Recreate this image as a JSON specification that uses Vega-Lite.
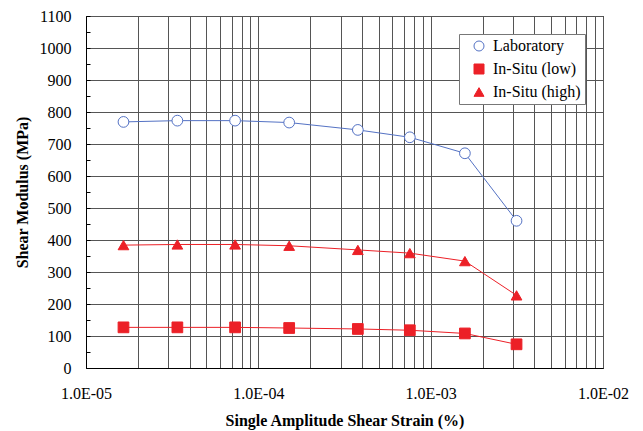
{
  "$schema": "https://vega.github.io/schema/vega-lite/v6.json",
  "autosize": "none",
  "width": 517,
  "height": 352,
  "padding": {"left": 86, "top": 16, "right": 40, "bottom": 63},
  "background": "white",
  "config": {
    "view": {"stroke": "#000", "strokeWidth": 1},
    "font": "Times New Roman, Liberation Serif, serif"
  },
  "data": {
    "values": [
      {"strain": 0.0000165, "G": 769, "series": "Laboratory"},
      {"strain": 0.0000339, "G": 773, "series": "Laboratory"},
      {"strain": 0.0000733, "G": 773, "series": "Laboratory"},
      {"strain": 0.000151, "G": 767, "series": "Laboratory"},
      {"strain": 0.000378, "G": 744, "series": "Laboratory"},
      {"strain": 0.000757, "G": 721, "series": "Laboratory"},
      {"strain": 0.00158, "G": 671, "series": "Laboratory"},
      {"strain": 0.00315, "G": 460, "series": "Laboratory"},
      {"strain": 0.0000165, "G": 127, "series": "In-Situ (low)"},
      {"strain": 0.0000339, "G": 127, "series": "In-Situ (low)"},
      {"strain": 0.0000733, "G": 127, "series": "In-Situ (low)"},
      {"strain": 0.000151, "G": 125, "series": "In-Situ (low)"},
      {"strain": 0.000378, "G": 122, "series": "In-Situ (low)"},
      {"strain": 0.000757, "G": 118, "series": "In-Situ (low)"},
      {"strain": 0.00158, "G": 108, "series": "In-Situ (low)"},
      {"strain": 0.00315, "G": 74, "series": "In-Situ (low)"},
      {"strain": 0.0000165, "G": 384, "series": "In-Situ (high)"},
      {"strain": 0.0000339, "G": 386, "series": "In-Situ (high)"},
      {"strain": 0.0000733, "G": 386, "series": "In-Situ (high)"},
      {"strain": 0.000151, "G": 382, "series": "In-Situ (high)"},
      {"strain": 0.000378, "G": 369, "series": "In-Situ (high)"},
      {"strain": 0.000757, "G": 359, "series": "In-Situ (high)"},
      {"strain": 0.00158, "G": 334, "series": "In-Situ (high)"},
      {"strain": 0.00315, "G": 227, "series": "In-Situ (high)"}
    ]
  },
  "encoding": {
    "x": {
      "field": "strain",
      "type": "quantitative",
      "scale": {"type": "log", "domain": [0.00001, 0.01], "nice": false},
      "axis": {
        "title": "Single Amplitude Shear Strain (%)",
        "titleFont": "Times New Roman, Liberation Serif, serif",
        "titleFontSize": 16,
        "titleFontWeight": "bold",
        "titleColor": "#000",
        "titlePadding": 11,
        "labelFont": "Times New Roman, Liberation Serif, serif",
        "labelFontSize": 16,
        "labelColor": "#000",
        "labelPadding": 17,
        "labelFlush": false,
        "labelOverlap": false,
        "values": [0.00001, 0.00002, 0.00003, 0.00004, 0.00005, 0.00006, 0.00007, 0.00008, 0.00009,
                   0.0001, 0.0002, 0.0003, 0.0004, 0.0005, 0.0006, 0.0007, 0.0008, 0.0009,
                   0.001, 0.002, 0.003, 0.004, 0.005, 0.006, 0.007, 0.008, 0.009, 0.01],
        "labelExpr": "abs(log(datum.value)/LN10 - round(log(datum.value)/LN10)) < 0.001 ? '1.0E-0' + (-round(log(datum.value)/LN10)) : ''",
        "grid": true,
        "gridColor": "#555",
        "gridWidth": 1,
        "ticks": false,
        "domainColor": "#000"
      }
    },
    "y": {
      "field": "G",
      "type": "quantitative",
      "scale": {"domain": [0, 1100], "nice": false},
      "axis": {
        "title": "Shear Modulus (MPa)",
        "titleFont": "Times New Roman, Liberation Serif, serif",
        "titleFontSize": 16,
        "titleFontWeight": "bold",
        "titleColor": "#000",
        "titlePadding": 9,
        "labelFont": "Times New Roman, Liberation Serif, serif",
        "labelFontSize": 16,
        "labelColor": "#000",
        "labelPadding": 19,
        "values": [0, 50, 100, 150, 200, 250, 300, 350, 400, 450, 500, 550, 600, 650, 700, 750, 800, 850, 900, 950, 1000, 1050, 1100],
        "labelExpr": "datum.value % 100 === 0 ? format(datum.value, 'd') : ''",
        "grid": true,
        "gridColor": "#555",
        "gridWidth": 1,
        "gridOpacity": {"condition": {"test": "datum.value % 100 === 0", "value": 1}, "value": 0},
        "ticks": true,
        "tickSize": -4,
        "tickColor": "#000",
        "domainColor": "#000"
      }
    }
  },
  "layer": [
    {
      "mark": {"type": "line", "strokeWidth": 1},
      "encoding": {
        "color": {
          "field": "series",
          "type": "nominal",
          "scale": {"domain": ["Laboratory", "In-Situ (low)", "In-Situ (high)"], "range": ["#5472c4", "#ec2027", "#ec2027"]},
          "legend": {
            "title": null,
            "orient": "top-right",
            "offsetX": 6,
            "offsetY": 14,
            "fillColor": "white",
            "strokeColor": "#777",
            "padding": 4,
            "labelFont": "Times New Roman, Liberation Serif, serif",
            "labelFontSize": 16,
            "labelColor": "#000",
            "labelOffset": 6,
            "rowPadding": 7,
            "symbolSize": 100,
            "symbolOffset": 8,
            "symbolStrokeWidth": 1
          }
        }
      }
    },
    {
      "mark": {"type": "point", "filled": false, "strokeWidth": 1, "opacity": 1, "size": 115},
      "encoding": {
        "color": {
          "field": "series",
          "type": "nominal",
          "scale": {"domain": ["Laboratory", "In-Situ (low)", "In-Situ (high)"], "range": ["#5472c4", "#ec2027", "#ec2027"]},
          "legend": {
            "title": null,
            "orient": "top-right",
            "offsetX": 6,
            "offsetY": 14,
            "fillColor": "white",
            "strokeColor": "#777",
            "padding": 4,
            "labelFont": "Times New Roman, Liberation Serif, serif",
            "labelFontSize": 16,
            "labelColor": "#000",
            "labelOffset": 6,
            "rowPadding": 7,
            "symbolSize": 100,
            "symbolOffset": 8,
            "symbolStrokeWidth": 1
          }
        },
        "fill": {
          "field": "series",
          "type": "nominal",
          "scale": {"domain": ["Laboratory", "In-Situ (low)", "In-Situ (high)"], "range": ["white", "#ec2027", "#ec2027"]}
        },
        "shape": {
          "field": "series",
          "type": "nominal",
          "scale": {"domain": ["Laboratory", "In-Situ (low)", "In-Situ (high)"], "range": ["circle", "square", "triangle-up"]}
        }
      }
    }
  ]
}
